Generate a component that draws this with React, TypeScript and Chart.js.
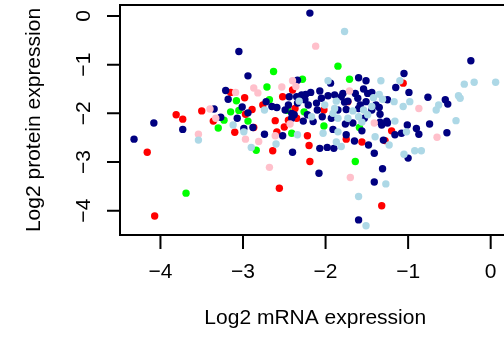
import React, { useEffect, useRef } from "react";
import { Chart, registerables } from "chart.js";

Chart.register(...registerables);

// Axis labels and tick values
const xTitle = "Log2 mRNA expression";
const yTitle = "Log2 protein expression";
const xTicks = [-4, -3, -2, -1, 0];
const yTicks = [0, -1, -2, -3, -4];
const xRange = [-4.49, 0.24];
const yRange = [-4.5, 0.226];

// Navy group
const navyX = [-2.19, -3.05, -2.94, -2.34, -3.21, -3.18, -2.44, -2.35, -2.29, -2.24, -2.72, -2.45, -2.25, -3.35, -3.01, -2.65, -2.59, -2.41, -3.27, -3.07, -2.94, -2.38, -2.27, -2.99, -2.74, -2.52, -2.40, -2.88, -4.08, -3.73, -4.32, -1.60, -1.51, -1.94, -1.05, -1.15, -0.99, -2.07, -2.18, -1.64, -1.54, -1.49, -1.89, -1.97, -1.79, -1.81, -2.05, -1.73, -1.77, -1.61, -1.44, -1.25, -1.58, -1.51, -1.39, -2.11, -2.21, -1.85, -1.75, -1.60, -1.44, -1.35, -1.34, -1.53, -1.56, -1.67, -1.76, -1.93, -2.04, -2.10, -2.22, -2.15, -1.91, -1.75, -1.65, -1.48, -1.30, -1.16, -1.08, -1.01, -1.25, -1.32, -2.07, -1.98, -1.90, -1.41, -1.00, -0.24, -0.76, -0.55, -0.52, -0.90, -0.87, -0.74, -0.53, -2.08, -1.31, -1.41, -1.60, -1.26, -1.34, -2.41, -2.49, -2.34];
const navyY = [0.06, -0.73, -1.23, -1.32, -1.53, -1.71, -1.66, -1.66, -1.62, -1.61, -1.76, -1.83, -1.72, -1.91, -1.87, -1.86, -1.88, -2.00, -2.08, -2.10, -1.99, -2.03, -2.16, -2.31, -2.43, -2.46, -2.80, -2.29, -2.20, -2.33, -2.53, -1.27, -1.33, -1.38, -1.18, -1.47, -1.57, -1.54, -1.57, -1.59, -1.50, -1.59, -1.62, -1.64, -1.59, -1.66, -1.69, -1.75, -1.77, -1.69, -1.57, -1.72, -1.83, -1.76, -1.83, -1.79, -1.83, -1.93, -1.92, -1.90, -1.93, -1.88, -2.02, -2.10, -2.36, -2.20, -2.22, -2.10, -2.07, -1.93, -2.03, -2.17, -2.33, -2.44, -2.57, -2.65, -2.55, -2.44, -2.41, -2.24, -2.20, -2.24, -2.72, -2.70, -2.72, -2.82, -2.92, -0.92, -1.67, -1.72, -1.81, -2.31, -2.43, -2.22, -2.40, -3.23, -3.14, -3.41, -4.19, -2.16, -2.18, -2.10, -1.93, -1.79];

// Red group
const redX = [-3.81, -3.73, -3.50, -4.16, -4.07, -3.36, -3.15, -2.98, -2.52, -2.40, -2.76, -2.89, -2.37, -2.97, -2.61, -2.45, -2.35, -2.87, -3.10, -2.59, -2.50, -2.64, -2.56, -2.22, -2.20, -2.19, -2.02, -1.73, -1.75, -1.56, -1.28, -1.20, -1.06, -1.32];
const redY = [-2.03, -2.12, -1.95, -2.80, -4.11, -2.16, -1.57, -1.68, -1.66, -1.52, -1.83, -1.92, -1.90, -2.02, -2.15, -2.14, -2.10, -2.29, -2.39, -2.38, -2.28, -2.77, -3.54, -2.46, -2.66, -2.99, -1.93, -1.76, -2.53, -2.59, -2.56, -2.36, -1.38, -3.90];

// Green group
const greenX = [-2.63, -2.71, -2.28, -3.08, -2.68, -3.15, -3.05, -2.46, -2.26, -3.23, -2.94, -3.30, -2.84, -2.41, -3.69, -1.85, -1.71, -1.59, -2.02, -1.64];
const greenY = [-1.14, -1.46, -1.30, -1.74, -1.72, -1.97, -1.94, -1.94, -1.97, -2.14, -2.16, -2.30, -2.76, -2.41, -3.64, -1.03, -1.30, -2.29, -2.26, -2.99];

// Pink group
const pinkX = [-3.40, -3.54, -2.87, -2.82, -2.53, -2.40, -2.36, -3.09, -3.33, -2.97, -2.81, -2.61, -2.68, -2.12, -1.71, -1.41, -1.70, -0.87, -0.65, -2.43];
const pinkY = [-1.91, -2.43, -1.48, -1.58, -1.46, -1.33, -1.45, -1.57, -2.10, -2.53, -2.58, -2.46, -3.11, -0.62, -1.54, -2.20, -3.32, -1.90, -2.49, -2.22];

// Light blue group
const lightX = [-1.77, -1.97, -1.33, -1.10, -0.32, -0.20, 0.06, -0.39, -0.37, -0.98, -1.06, -0.66, -0.63, -0.42, -1.02, -1.05, -0.92, -0.84, -1.17, -1.42, -1.35, -1.31, -1.44, -1.87, -2.01, -1.89, -1.67, -1.54, -1.49, -1.60, -1.73, -1.85, -1.91, -2.17, -2.03, -1.85, -1.40, -1.23, -1.16, -1.81, -1.87, -1.56, -1.27, -1.60, -1.51, -2.74, -3.12, -2.99, -3.54, -2.60, -2.90, -2.34, -2.32];
const lightY = [-0.32, -1.33, -1.33, -1.33, -1.40, -1.36, -1.36, -1.64, -1.69, -1.76, -1.86, -1.93, -1.83, -2.15, -2.38, -2.84, -2.77, -2.77, -1.76, -1.68, -1.61, -1.71, -1.86, -1.75, -1.83, -1.90, -1.95, -1.93, -2.03, -2.07, -2.10, -2.10, -2.00, -2.07, -2.41, -2.38, -2.48, -2.65, -2.16, -2.68, -2.59, -2.18, -3.45, -3.71, -4.31, -1.93, -2.24, -2.38, -2.55, -2.63, -2.70, -2.44, -1.75];

const groups = [
  { name: "lightblue", color: "#ADD8E6", xs: lightX, ys: lightY },
  { name: "pink", color: "#FFC0CB", xs: pinkX, ys: pinkY },
  { name: "navy", color: "#000080", xs: navyX, ys: navyY },
  { name: "red", color: "#FF0000", xs: redX, ys: redY },
  { name: "green", color: "#00FF00", xs: greenX, ys: greenY },
];

const FONT = '21px "Liberation Sans", Arial, sans-serif';
const fmt = (v: number) => (v < 0 ? "\u2212" + Math.abs(v) : String(v));

const axesPlugin = {
  id: "rAxes",
  afterDraw(chart: any) {
    const ctx = chart.ctx;
    const { left, right, top, bottom } = chart.chartArea;
    const xs = chart.scales.x;
    const ys = chart.scales.y;
    ctx.save();
    ctx.strokeStyle = "#000";
    ctx.fillStyle = "#000";
    ctx.lineWidth = 2;
    ctx.strokeRect(left, top, right - left, bottom - top);
    ctx.font = FONT;
    // x axis
    ctx.beginPath();
    xTicks.forEach((t) => {
      const px = xs.getPixelForValue(t);
      ctx.moveTo(px, bottom);
      ctx.lineTo(px, bottom + 14);
    });
    ctx.stroke();
    ctx.textAlign = "center";
    ctx.textBaseline = "alphabetic";
    xTicks.forEach((t) => {
      ctx.fillText(fmt(t), xs.getPixelForValue(t), 278);
    });
    ctx.fillText(xTitle, (left + right) / 2, 324);
    // y axis
    ctx.beginPath();
    yTicks.forEach((t) => {
      const py = ys.getPixelForValue(t);
      ctx.moveTo(left, py);
      ctx.lineTo(left - 13, py);
    });
    ctx.stroke();
    yTicks.forEach((t) => {
      ctx.save();
      ctx.translate(90, ys.getPixelForValue(t));
      ctx.rotate(-Math.PI / 2);
      ctx.fillText(fmt(t), 0, 0);
      ctx.restore();
    });
    ctx.save();
    ctx.translate(40, (top + bottom) / 2);
    ctx.rotate(-Math.PI / 2);
    ctx.fillText(yTitle, 0, 0);
    ctx.restore();
    ctx.restore();
  },
};

export default function App() {
  const ref = useRef<HTMLCanvasElement>(null);
  useEffect(() => {
    if (!ref.current) return;
    const chart = new Chart(ref.current, {
      type: "scatter",
      data: {
        datasets: groups.map((g) => ({
          label: g.name,
          data: g.xs.map((x, i) => ({ x, y: g.ys[i] })),
          backgroundColor: g.color,
          borderColor: g.color,
          pointRadius: 3.7,
          pointBorderWidth: 0,
          pointHoverRadius: 3.7,
        })),
      },
      options: {
        responsive: false,
        animation: false,
        devicePixelRatio: 1,
        layout: { padding: { left: 120, right: 9.5, top: 5, bottom: 106 } },
        plugins: { legend: { display: false }, tooltip: { enabled: false } },
        scales: {
          x: { type: "linear", min: xRange[0], max: xRange[1], display: false },
          y: { type: "linear", min: yRange[0], max: yRange[1], display: false },
        },
      },
      plugins: [axesPlugin],
    });
    return () => chart.destroy();
  }, []);
  return (
    <div style={{ position: "absolute", left: 0, top: 0, width: 504, height: 341, overflow: "hidden", background: "#fff" }}>
      <canvas ref={ref} width={520} height={341} style={{ display: "block", width: 520, height: 341 }} />
    </div>
  );
}
